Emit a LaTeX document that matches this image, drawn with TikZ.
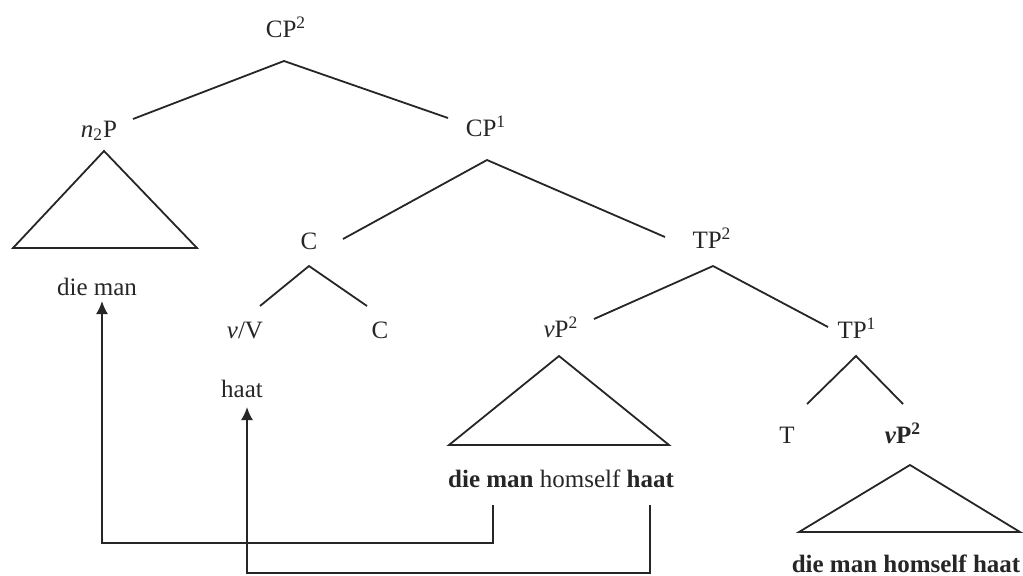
\documentclass[tikz,border=0pt]{standalone}
\usepackage{fontspec}
\setmainfont{Liberation Serif}
\usetikzlibrary{arrows.meta}
\definecolor{ink}{HTML}{262626}

\begin{document}
\begin{tikzpicture}[
    x=0.5pt, y=-0.5pt,
    cat/.style={anchor=base, inner sep=0pt, text=ink, font=\fontsize{12.5}{15}\selectfont},
    branch/.style={draw=ink, line width=0.9pt},
    move/.style={draw=ink, line width=0.9pt, -{Latex[length=6.5pt,width=6pt]}},
    ]
    \useasboundingbox (0,0) rectangle (1023,575);

    %Nodes
    \node[cat] (cp2) at (286,37) {CP\textsuperscript{2}};
    \node[cat] (n2p) at (99,137) {\textit{n}\textsubscript{2}P};
    \node[cat] (cp1) at (486,136) {CP\textsuperscript{1}};
    \node[cat] (dieman) at (97,295) {die man};
    \node[cat] (cbar) at (309,249) {C};
    \node[cat] (vv) at (245,338) {\textit{v}/V};
    \node[cat] (c) at (380,338) {C};
    \node[cat] (haat) at (242,397) {haat};
    \node[cat] (tp2) at (712,248) {TP\textsuperscript{2}};
    \node[cat] (vp2) at (561,337) {\textit{v}P\textsuperscript{2}};
    \node[cat] (tp1) at (857,338) {TP\textsuperscript{1}};
    \node[cat] (t) at (787,443) {T};
    \node[cat] (vp2b) at (903,443) {\textbf{\textit{v}P\textsuperscript{2}}};
    \node[cat] (copy) at (561,487) {\textbf{die man} homself \textbf{haat}};
    \node[cat] (orig) at (906,572) {\textbf{die man homself haat}};

    %Branch points
    \coordinate (cp2-top) at (284,61);
    \coordinate (n2p-arm) at (133,119);
    \coordinate (cp1-arm) at (448,118);
    \coordinate (cp1-top) at (487,160);
    \coordinate (cbar-arm) at (343,239);
    \coordinate (tp2-arm) at (665,237);
    \coordinate (cbar-top) at (309,266);
    \coordinate (vv-arm) at (260,306);
    \coordinate (c-arm) at (367,306);
    \coordinate (tp2-top) at (713,266);
    \coordinate (vp2-arm) at (594,319);
    \coordinate (tp1-arm) at (828,327);
    \coordinate (tp1-top) at (856,356);
    \coordinate (t-arm) at (807,404);
    \coordinate (vp2b-arm) at (903,404);

    \draw[branch] (n2p-arm) -- (cp2-top) -- (cp1-arm);
    \draw[branch] (cbar-arm) -- (cp1-top) -- (tp2-arm);
    \draw[branch] (vv-arm) -- (cbar-top) -- (c-arm);
    \draw[branch] (vp2-arm) -- (tp2-top) -- (tp1-arm);
    \draw[branch] (t-arm) -- (tp1-top) -- (vp2b-arm);

    %Triangles
    \draw[branch] (104,151) -- (13,248) -- (197,248) -- cycle;
    \draw[branch] (559,356) -- (449,445) -- (669,445) -- cycle;
    \draw[branch] (910,465) -- (799,532) -- (1020,532) -- cycle;

    %Movement
    \coordinate (dm-from) at (493,505);
    \coordinate (dm-to) at (102,301);
    \coordinate (h-from) at (650,505);
    \coordinate (h-to) at (247,407);
    \draw[move] (dm-from) -- (493,543) -- (102,543) -- (dm-to);
    \draw[move] (h-from) -- (650,573) -- (247,573) -- (h-to);
\end{tikzpicture}
\end{document}
